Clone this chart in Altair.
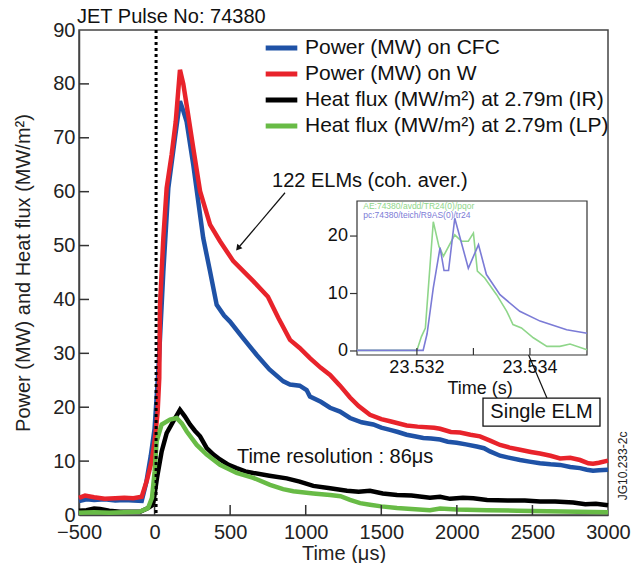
import altair as alt
import pandas as pd

FONT = "Liberation Sans"

# ---------------- main series: time (µs), value ----------------
t_cfc = [-500, -450, -400, -330, -260, -200, -140, -85, -55, -25, 0, 25, 58, 91, 135, 168, 190, 212, 256, 322, 367, 411, 460, 499, 580, 676, 760, 852, 896, 960, 1006, 1028, 1100, 1161, 1227, 1293, 1370, 1447, 1500, 1558, 1610, 1668, 1720, 1778, 1830, 1889, 1940, 1999, 2060, 2131, 2180, 2219, 2286, 2350, 2418, 2480, 2550, 2620, 2683, 2750, 2815, 2860, 2901, 2940, 3000]
v_cfc = [2.6, 2.9, 2.8, 2.9, 2.7, 2.8, 2.7, 2.6, 6, 11, 16, 26.7, 45.2, 60.7, 70, 76.8, 75, 73, 65, 51.4, 45.2, 39, 37, 35.9, 33, 29.7, 27, 24.8, 24.2, 24, 23.2, 22, 21, 19.9, 19.2, 18, 17.2, 16.8, 16.2, 15.8, 15.4, 14.9, 14.6, 14.3, 14.2, 14.0, 13.6, 13.4, 13.1, 12.7, 12.4, 11.8, 11.0, 10.6, 10.2, 9.9, 9.6, 9.4, 9.3, 8.9, 8.7, 8.4, 8.2, 8.3, 8.4]

t_w = [-500, -460, -400, -330, -260, -200, -140, -85, -50, -19, 3, 20, 31, 36, 58, 80, 113, 140, 168, 190, 212, 256, 301, 367, 433, 521, 653, 750, 820, 896, 960, 1028, 1100, 1161, 1227, 1293, 1350, 1425, 1500, 1558, 1668, 1740, 1850, 1889, 1960, 2021, 2090, 2153, 2220, 2286, 2350, 2418, 2490, 2550, 2620, 2683, 2750, 2815, 2870, 2901, 2940, 3000]
v_w = [3.2, 3.6, 3.3, 3.0, 3.1, 3.2, 3.1, 3.4, 6.5, 10, 14.3, 19, 25.4, 39, 51.4, 60.7, 66.9, 73, 82.6, 80, 76.1, 68.1, 60.1, 53.9, 50.8, 47.1, 43.4, 40.5, 36.5, 32.5, 31, 29.1, 27.3, 26, 24, 21.8, 20.2, 18.6, 17.8, 17.4, 16.6, 16.4, 16.2, 16.0, 15.4, 15.3, 14.9, 14.6, 13.8, 13.0, 12.5, 12.1, 11.7, 11.4, 11.0, 10.5, 10.6, 10.2, 9.6, 9.5, 9.7, 10.1]

t_ir = [-500, -450, -400, -361, -300, -229, -160, -96, -43, -10, 16, 47, 80, 124, 168, 200, 234, 268, 301, 345, 390, 433, 490, 543, 600, 653, 760, 874, 960, 1050, 1150, 1273, 1350, 1425, 1510, 1604, 1700, 1822, 1889, 1955, 2040, 2109, 2200, 2336, 2450, 2550, 2650, 2770, 2850, 2920, 3000]
v_ir = [0.8, 0.9, 1.2, 1.1, 0.8, 0.6, 0.6, 0.6, 1.3, 1.9, 6.9, 11.8, 15.2, 17.4, 19.5, 18.3, 16.8, 15.6, 14.6, 12.4, 11.2, 10.3, 9.3, 8.7, 8.1, 7.8, 7.3, 6.8, 6.2, 5.4, 5.0, 4.5, 4.3, 4.5, 4.0, 3.7, 3.6, 3.2, 3.4, 3.0, 3.2, 3.1, 2.8, 2.7, 2.7, 2.5, 2.5, 2.3, 2.0, 2.1, 1.8]

t_lp = [-500, -400, -300, -200, -100, -43, -17, 0, 14, 47, 102, 146, 180, 213, 279, 345, 433, 543, 653, 764, 850, 918, 1050, 1161, 1230, 1293, 1360, 1425, 1500, 1604, 1700, 1822, 1889, 2000, 2200, 2400, 2600, 2800, 3000]
v_lp = [0.4, 0.5, 0.4, 0.5, 0.6, 1.3, 3.2, 8, 13.7, 16.8, 17.7, 18, 17, 15.5, 13, 11.2, 9.3, 7.8, 6.9, 5.6, 4.8, 4.4, 4.0, 3.7, 3.5, 2.8, 2.2, 1.9, 1.6, 1.3, 1.1, 0.9, 1.2, 1.0, 0.9, 0.8, 0.7, 0.6, 0.5]

series_names = ["Power (MW) on CFC", "Power (MW) on W",
                "Heat flux (MW/m²) at 2.79m (IR)", "Heat flux (MW/m²) at 2.79m (LP)"]
series_colors = ["#1f52a6", "#e8232b", "#000000", "#68bb46"]

x_ticks = [-500, 0, 500, 1000, 1500, 2000, 2500, 3000]
y_ticks = [0, 10, 20, 30, 40, 50, 60, 70, 80, 90]
x_inner_ticks = [0, 500, 1000, 1500, 2000, 2500]
y_inner_ticks = [10, 20, 30, 40, 50, 60, 70, 80]
elm_time = [10]

# annotations (data coordinates)
title_text = "JET Pulse No: 74380"
title_t, title_v = -513, 92.5
ann_text = ["122 ELMs (coh. aver.)", "Time resolution : 86μs"]
ann_t = [777, 545]
ann_v = [62.0, 10.8]
arrow_t1 = [863, 2596]
arrow_v1 = [59.8, 21.7]
arrow_t2 = [552, 2405]
arrow_v2 = [49.5, 34.3]
arrow_angle = [220, 337]
box_t = [2173, 2947]
box_v = [16.5, 21.7]
box_label = "Single ELM"
code_label = "JG10.233-2c"

# ---------------- inset: single ELM ----------------
ti_blue = [23.53094, 23.5318, 23.53211, 23.53218, 23.53229, 23.53241, 23.53248, 23.53256, 23.53267, 23.53291, 23.53309, 23.53323, 23.53347, 23.53382, 23.53418, 23.53465, 23.53501]
vi_blue = [0.1, 0.1, 0.1, 3, 11, 18, 14, 14, 23.1, 14.4, 18.5, 13.3, 9.8, 6.9, 5.2, 3.7, 3.1]
ti_green = [23.53094, 23.532, 23.53208, 23.53215, 23.53229, 23.53239, 23.53247, 23.53267, 23.53279, 23.53291, 23.533, 23.53307, 23.5332, 23.53341, 23.53359, 23.5337, 23.53385, 23.53406, 23.5343, 23.53453, 23.53471, 23.53501]
vi_green = [0.1, 0.1, 2.5, 4, 22.5, 18.2, 16.5, 20.2, 19.1, 19.1, 20.5, 13.9, 12.7, 9.8, 6.9, 4.6, 4.0, 2.3, 0.8, 0.8, 1.2, 0.2]
inset_x_domain = [23.53094, 23.53501]
inset_y_domain = [-0.7, 26.1]
inset_x_labels = [23.532, 23.534]
inset_x_ticks = [23.532, 23.533, 23.534]
inset_y_labels = [0, 10, 20]
inset_trace_names = ["AE:74380/avdd/TR24(0)/pqor", "pc:74380/teich/R9AS(0)/tr24"]
inset_trace_colors = ["#8fd68a", "#7b7bd6"]

W, H = 529, 485

# ---------------- build main ----------------
rows = []
for name, ts, vs in zip(series_names, [t_cfc, t_w, t_ir, t_lp], [v_cfc, v_w, v_ir, v_lp]):
    rows += [{"series": name, "t": a, "v": b} for a, b in zip(ts, vs)]
df = pd.DataFrame(rows)

xs = alt.Scale(domain=[-500, 3000], nice=False, zero=False)
ys = alt.Scale(domain=[0, 90], nice=False, zero=False)

x_axis = alt.Axis(values=x_ticks, ticks=False, grid=False, format="d",
                  labelFont=FONT, labelFontSize=20, labelColor="#222", labelPadding=7,
                  labelFlush=False, labelOverlap=False,
                  domainColor="#444", domainWidth=1.5,
                  title="Time (μs)", titleFont=FONT, titleFontSize=20,
                  titleFontWeight="normal", titleColor="#222", titlePadding=1)
y_axis = alt.Axis(values=y_ticks, ticks=False, grid=False, format="d",
                  labelFont=FONT, labelFontSize=20, labelColor="#222", labelPadding=4,
                  labelFlush=False, labelOverlap=False,
                  domainColor="#444", domainWidth=1.5,
                  title="Power (MW) and Heat flux (MW/m²)", titleFont=FONT, titleFontSize=20,
                  titleFontWeight="normal", titleColor="#222", titlePadding=19)

lines = alt.Chart(df).mark_line(strokeWidth=4.5).encode(
    x=alt.X("t:Q", scale=xs, axis=x_axis),
    y=alt.Y("v:Q", scale=ys, axis=y_axis),
    color=alt.Color("series:N",
                    scale=alt.Scale(domain=series_names, range=series_colors),
                    legend=alt.Legend(title=None, orient="none", legendX=184, legendY=5,
                                      symbolType="stroke", symbolStrokeWidth=5, symbolSize=1000,
                                      labelFont=FONT, labelFontSize=21, labelColor="#111",
                                      labelOffset=5, clipHeight=26, rowPadding=0, padding=0,
                                      labelLimit=400)),
)

xt = alt.Chart(pd.DataFrame({"t": x_inner_ticks})).mark_rule(color="#333", strokeWidth=1.5).encode(
    x=alt.X("t:Q", scale=xs), y=alt.value(H), y2=alt.value(H - 10))
yt = alt.Chart(pd.DataFrame({"v": y_inner_ticks})).mark_rule(color="#333", strokeWidth=1.5).encode(
    y=alt.Y("v:Q", scale=ys), x=alt.value(0), x2=alt.value(10))

dotted = alt.Chart(pd.DataFrame({"t": elm_time})).mark_rule(
    color="black", strokeWidth=3, strokeDash=[3, 3]).encode(x=alt.X("t:Q", scale=xs))

ttl = alt.Chart(pd.DataFrame({"t": [title_t], "v": [title_v], "lab": [title_text]})).mark_text(
    font=FONT, fontSize=20, align="left", baseline="middle", color="#111").encode(
    x=alt.X("t:Q", scale=xs), y=alt.Y("v:Q", scale=ys), text="lab:N")

ann = alt.Chart(pd.DataFrame({"txt": ann_text, "t": ann_t, "v": ann_v})).mark_text(
    font=FONT, fontSize=20, align="left", baseline="middle", color="#111").encode(
    x=alt.X("t:Q", scale=xs), y=alt.Y("v:Q", scale=ys), text="txt:N")

arr_df = pd.DataFrame({"t1": arrow_t1, "v1": arrow_v1, "t2": arrow_t2, "v2": arrow_v2, "ang": arrow_angle})
arr = alt.Chart(arr_df).mark_rule(color="#111", strokeWidth=1.2).encode(
    x=alt.X("t1:Q", scale=xs), y=alt.Y("v1:Q", scale=ys), x2="t2:Q", y2="v2:Q")
heads = alt.Chart(arr_df).mark_point(shape="triangle-up", filled=True, size=45, color="#111", opacity=1).encode(
    x=alt.X("t2:Q", scale=xs), y=alt.Y("v2:Q", scale=ys), angle=alt.Angle("ang:Q", scale=None))

box_df = pd.DataFrame({"t1": [box_t[0]], "t2": [box_t[1]], "v1": [box_v[0]], "v2": [box_v[1]],
                       "tc": [(box_t[0] + box_t[1]) / 2], "vc": [(box_v[0] + box_v[1]) / 2], "lab": [box_label]})
box = alt.Chart(box_df).mark_rect(fill="white", stroke="#111", strokeWidth=1.3).encode(
    x=alt.X("t1:Q", scale=xs), x2="t2:Q", y=alt.Y("v1:Q", scale=ys), y2="v2:Q")
box_txt = alt.Chart(box_df).mark_text(font=FONT, fontSize=20, align="center", baseline="middle", color="#111").encode(
    x=alt.X("tc:Q", scale=xs), y=alt.Y("vc:Q", scale=ys), text="lab:N")

code_txt = alt.Chart(pd.DataFrame({"t": [3099], "v": [9.1], "lab": [code_label]})).mark_text(
    font=FONT, fontSize=12, angle=270, align="center", baseline="middle", color="#222").encode(
    x=alt.X("t:Q", scale=xs), y=alt.Y("v:Q", scale=ys), text="lab:N")

main = alt.layer(lines, xt, yt, arr, heads, box, box_txt, ann, code_txt, ttl, dotted)

# ---------------- build inset ----------------
ixs = alt.Scale(domain=inset_x_domain, range=[278, 508], nice=False, zero=False)
iys = alt.Scale(domain=inset_y_domain, range=[325, 171], nice=False, zero=False)

irows = [{"tr": inset_trace_names[0], "ts": a, "v": b} for a, b in zip(ti_green, vi_green)]
irows += [{"tr": inset_trace_names[1], "ts": a, "v": b} for a, b in zip(ti_blue, vi_blue)]
idf = pd.DataFrame(irows)

frame = alt.Chart(pd.DataFrame({"x1": [inset_x_domain[0]], "x2": [inset_x_domain[1]],
                                "y1": [inset_y_domain[0]], "y2": [inset_y_domain[1]]})).mark_rect(
    fill="white", stroke="#333", strokeWidth=1.2).encode(
    x=alt.X("x1:Q", scale=ixs, axis=None), x2="x2:Q",
    y=alt.Y("y1:Q", scale=iys, axis=None), y2="y2:Q")

ilines = alt.Chart(idf).mark_line(strokeWidth=1.6).encode(
    x=alt.X("ts:Q", scale=ixs, axis=None),
    y=alt.Y("v:Q", scale=iys, axis=None),
    color=alt.Color("tr:N", scale=alt.Scale(domain=inset_trace_names, range=inset_trace_colors), legend=None))

itr = alt.Chart(pd.DataFrame({"tr": inset_trace_names, "ts": [23.53105, 23.53105], "v": [25.2, 23.6]})).mark_text(
    font=FONT, fontSize=8.5, align="left", baseline="middle").encode(
    x=alt.X("ts:Q", scale=ixs, axis=None), y=alt.Y("v:Q", scale=iys, axis=None), text="tr:N",
    color=alt.Color("tr:N", scale=alt.Scale(domain=inset_trace_names, range=inset_trace_colors), legend=None))

ixt = alt.Chart(pd.DataFrame({"ts": inset_x_ticks})).mark_rule(color="#333", strokeWidth=1.2).encode(
    x=alt.X("ts:Q", scale=ixs, axis=None), y=alt.value(325), y2=alt.value(318))
iyt = alt.Chart(pd.DataFrame({"v": inset_y_labels})).mark_rule(color="#333", strokeWidth=1.2).encode(
    y=alt.Y("v:Q", scale=iys, axis=None), x=alt.value(271), x2=alt.value(278))

ixl = alt.Chart(pd.DataFrame({"ts": inset_x_labels, "v": [-3.0, -3.0],
                              "lab": ["%.3f" % a for a in inset_x_labels]})).mark_text(
    font=FONT, fontSize=18, align="center", baseline="middle", color="#111").encode(
    x=alt.X("ts:Q", scale=ixs, axis=None), y=alt.Y("v:Q", scale=iys, axis=None), text="lab:N")
iyl = alt.Chart(pd.DataFrame({"ts": [23.530779] * 3, "v": inset_y_labels,
                              "lab": [str(a) for a in inset_y_labels]})).mark_text(
    font=FONT, fontSize=18, align="right", baseline="middle", color="#111").encode(
    x=alt.X("ts:Q", scale=ixs, axis=None), y=alt.Y("v:Q", scale=iys, axis=None), text="lab:N")
ixtitle = alt.Chart(pd.DataFrame({"ts": [23.53312], "v": [-6.6], "lab": ["Time (s)"]})).mark_text(
    font=FONT, fontSize=18, align="center", baseline="middle", color="#111").encode(
    x=alt.X("ts:Q", scale=ixs, axis=None), y=alt.Y("v:Q", scale=iys, axis=None), text="lab:N")

inset = alt.layer(frame, ilines, itr, ixt, iyt, ixl, iyl, ixtitle)

chart = alt.layer(main, inset).resolve_scale(
    x="independent", y="independent", color="independent"
).properties(
    width=W, height=H,
    autosize=alt.AutoSizeParams(type="none"),
    padding={"left": 71, "top": 22, "right": 25, "bottom": 48},
).configure_view(stroke="#444", strokeWidth=1.5)

chart.save("out.html", embed_options={"renderer": "svg", "actions": False})
